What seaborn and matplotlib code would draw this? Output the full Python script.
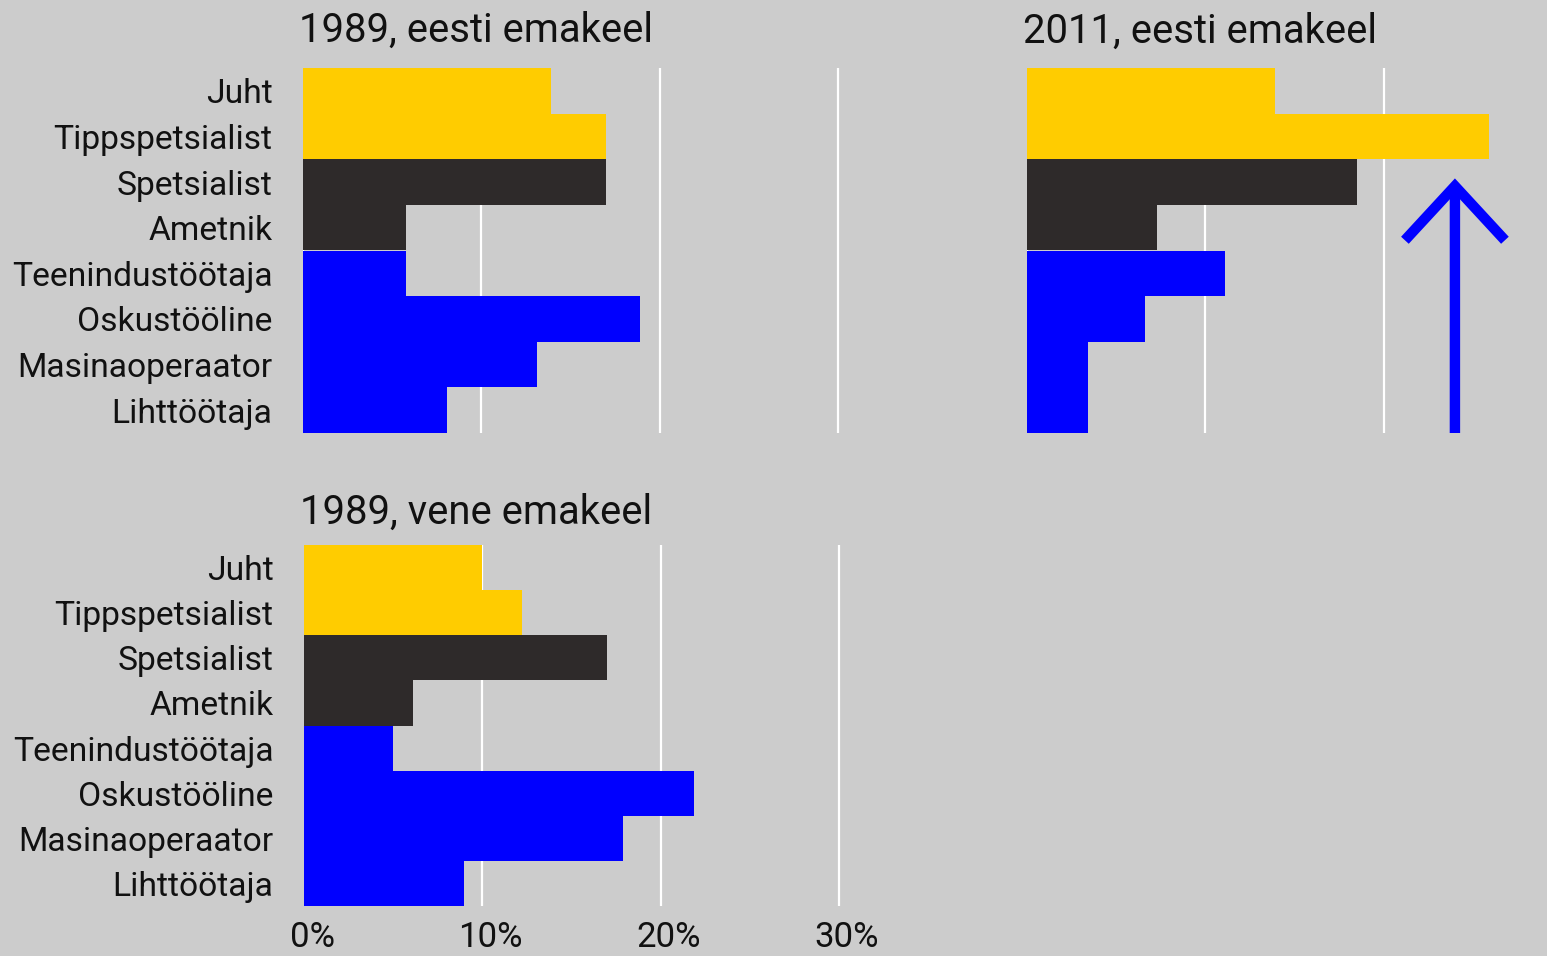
import pandas as pd
import numpy as np
import matplotlib.pyplot as plt
import matplotlib.transforms as mtransforms
import seaborn as sns

categories = ["Juht", "Tippspetsialist", "Spetsialist", "Ametnik",
              "Teenindustöötaja", "Oskustööline", "Masinaoperaator", "Lihttöötaja"]
est_1989 = [13.9, 17.0, 17.0, 5.8, 5.8, 18.9, 13.1, 8.1]
est_2011 = [13.9, 25.9, 18.5, 7.3, 11.1, 6.6, 3.4, 3.4]
rus_1989 = [10.0, 12.2, 17.0, 6.1, 5.0, 21.9, 17.9, 9.0]
titles = ["1989, eesti emakeel", "2011, eesti emakeel", "1989, vene emakeel"]
tick_values = [0, 10, 20, 30]
tick_labels = ["0%", "10%", "20%", "30%"]
arrow_x = 24.0

yellow, dark, blue = "#ffcc00", "#2e2a2a", "#0000ff"
palette = dict(zip(categories, [yellow, yellow, dark, dark, blue, blue, blue, blue]))
bg = "#cccccc"

sns.set_theme(style="white")
plt.rcParams["font.family"] = ["Roboto", "DejaVu Sans"]

fig = plt.figure(figsize=(15.47, 9.56), dpi=100, facecolor=bg)
W, H = 1547, 956
px = 17.83  # pixels per percent


def make_ax(left, top, bottom, width):
    return fig.add_axes([left / W, (H - bottom) / H, width / W, (bottom - top) / H])


ax1 = make_ax(303, 68, 433, 31 * px)
ax2 = make_ax(1027, 68, 433, 520)
ax3 = make_ax(304, 545, 906, 31 * px)

panels = [(ax1, est_1989, 31, True, False, 19),
          (ax2, est_2011, 520 / px, False, False, 18),
          (ax3, rus_1989, 31, True, True, 15)]

for (ax, vals, xmax, ylab, xlab, tpad), title in zip(panels, titles):
    df = pd.DataFrame({"cat": categories, "val": vals})
    ax.set_facecolor(bg)
    for t in tick_values:
        ax.axvline(t, color="white", lw=1.6, zorder=0)
    sns.barplot(data=df, x="val", y="cat", hue="cat", palette=palette, orient="h",
                width=1.0, dodge=False, legend=False, ax=ax, saturation=1,
                linewidth=0, zorder=2)
    ax.set_xticks(tick_values)
    ax.set_xlim(0, xmax)
    ax.set_ylim(7.5, -0.5)
    ax.set_xlabel("")
    ax.set_ylabel("")
    sns.despine(ax=ax, left=True, bottom=True)
    ax.tick_params(length=0)
    if xlab:
        ax.set_xticklabels(tick_labels, fontsize=25, color="#111111")
        ax.tick_params(axis="x", pad=11)
        shift = mtransforms.ScaledTranslation(8 / 100, 0, fig.dpi_scale_trans)
        for lab in ax.get_xticklabels():
            lab.set_transform(lab.get_transform() + shift)
    else:
        ax.set_xticklabels([])
    if ylab:
        ax.tick_params(axis="y", labelsize=24.2, pad=22, labelcolor="#111111")
    else:
        ax.set_yticklabels([])
    ax.set_title(title, loc="left", fontsize=28.8, color="#111111", pad=tpad, x=-0.008)

ax2.annotate("", xy=(arrow_x, 1.92), xytext=(arrow_x, 7.5),
             arrowprops=dict(arrowstyle="->,head_length=1.95,head_width=1.8",
                             lw=7.5, color=blue, mutation_scale=20,
                             shrinkA=0, shrinkB=0, joinstyle="miter",
                             capstyle="butt"),
             zorder=5)

fig.savefig("out.png", dpi=100, facecolor=bg)
